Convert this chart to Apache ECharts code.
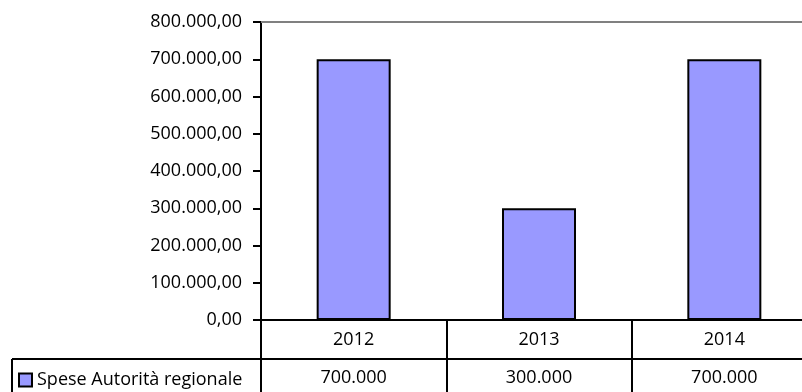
<!DOCTYPE html>
<html>
<head>
<meta charset="utf-8">
<script src="https://cdn.jsdelivr.net/npm/echarts@6/dist/echarts.min.js"></script>
<style>html,body{margin:0;padding:0;background:#fff}#c{width:802px;height:392px}</style>
</head>
<body>
<div id="c"></div>
<script>
const categories = ['2012', '2013', '2014'];
const seriesName = 'Spese Autorità regionale';
const values = [700000, 300000, 700000];
const yTicks = [0, 100000, 200000, 300000, 400000, 500000, 600000, 700000, 800000];

const FONT = 'Open Sans';
const FS = 18;
function fmtThousands(n) {
  return String(Math.round(n)).replace(/\B(?=(\d{3})+(?!\d))/g, '.');
}
function fmtAxis(v) { return fmtThousands(v) + ',00'; }

const chart = echarts.init(document.getElementById('c'), null, { renderer: 'canvas' });
chart.setOption({
  animation: false,
  backgroundColor: '#ffffff',
  textStyle: { fontFamily: FONT, color: '#000' },
  grid: { left: 261, top: 22, width: 556, height: 298, containLabel: false, outerBoundsMode: 'none' },
  legend: {
    data: [seriesName],
    left: 13, top: 366,
    icon: 'rect', itemWidth: 13, itemHeight: 13, itemGap: 6,
    textStyle: { fontFamily: FONT, fontSize: FS, color: '#000' }
  },
  xAxis: [
    {
      type: 'category', data: categories, position: 'bottom',
      axisLine: { lineStyle: { color: '#000', width: 2 } },
      axisTick: { show: true, length: 72, lineStyle: { color: '#000', width: 2 } },
      axisLabel: { margin: 11, fontFamily: FONT, fontSize: FS, color: '#000' }
    },
    {
      type: 'category', data: values.map(fmtThousands), position: 'bottom', offset: 39,
      axisLine: { show: true, lineStyle: { color: '#000', width: 2 } },
      axisTick: { show: false },
      axisLabel: { margin: 10, fontFamily: FONT, fontSize: FS, color: '#000' }
    },
    {
      type: 'category', data: categories, position: 'top',
      axisLine: { show: true, lineStyle: { color: '#808080', width: 2 } },
      axisTick: { show: false }, axisLabel: { show: false }
    }
  ],
  yAxis: {
    type: 'value', min: yTicks[0], max: yTicks[yTicks.length - 1], interval: yTicks[1] - yTicks[0],
    axisLine: { show: true, lineStyle: { color: '#000', width: 2 } },
    axisTick: { show: true, length: 8, lineStyle: { color: '#000', width: 2 } },
    splitLine: { show: false },
    axisLabel: { margin: 19, fontFamily: FONT, fontSize: FS, color: '#000', formatter: fmtAxis }
  },
  series: [{
    name: seriesName, type: 'bar', data: values, xAxisIndex: 0,
    barWidth: 74,
    itemStyle: { color: '#9999FF', borderColor: '#000', borderWidth: 2 }
  }],
  graphic: [
    { type: 'line', shape: { x1: 12, y1: 359, x2: 261, y2: 359 }, style: { stroke: '#000', lineWidth: 2 } },
    { type: 'line', shape: { x1: 12, y1: 359, x2: 12, y2: 392 }, style: { stroke: '#000', lineWidth: 2 } }
  ]
});
</script>
</body>
</html>
